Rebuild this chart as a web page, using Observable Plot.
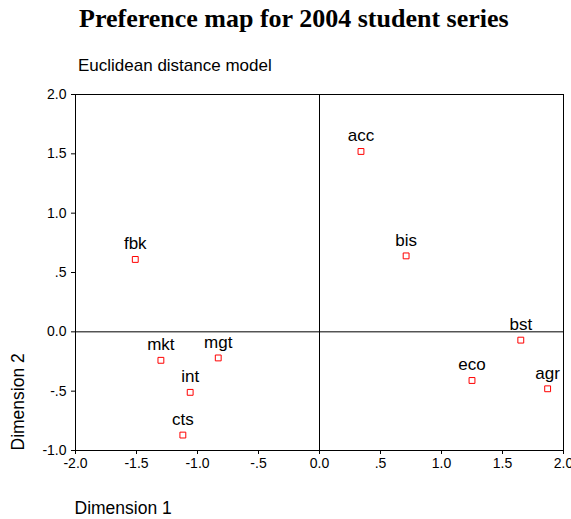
<!DOCTYPE html>
<html>
<head>
<meta charset="utf-8">
<script src="https://cdn.jsdelivr.net/npm/d3@7"></script>
<script src="https://cdn.jsdelivr.net/npm/@observablehq/plot@0.6"></script>
<style>
  body { margin: 0; background: #fff; }
  #wrap { position: relative; width: 571px; height: 519px; font-family: "Liberation Sans", Arial, sans-serif; }
  #title { position: absolute; left: 79px; top: 6px; font: bold 26px/26px "Liberation Serif", "Times New Roman", serif; white-space: nowrap; color: #000; }
  #subtitle { position: absolute; left: 78px; top: 57px; font: 17px/17px "Liberation Sans", Arial, sans-serif; white-space: nowrap; color: #000; }
  #chart { position: absolute; left: 0; top: 86px; }
</style>
</head>
<body>
<div id="wrap">
  <div id="title">Preference map for 2004 student series</div>
  <div id="subtitle">Euclidean distance model</div>
  <div id="chart"></div>
</div>
<script>
const labels = ["acc", "bis", "fbk", "bst", "eco", "agr", "mkt", "mgt", "int", "cts"];
const dim1 = [0.34, 0.71, -1.51, 1.65, 1.25, 1.87, -1.30, -0.83, -1.06, -1.12];
const dim2 = [1.52, 0.64, 0.61, -0.07, -0.41, -0.48, -0.24, -0.22, -0.51, -0.87];

const xTicks = [-2, -1.5, -1, -0.5, 0, 0.5, 1, 1.5, 2];
const xTickLabels = ["-2.0", "-1.5", "-1.0", "-.5", "0.0", ".5", "1.0", "1.5", "2.0"];
const yTicks = [-1, -0.5, 0, 0.5, 1, 1.5, 2];
const yTickLabels = ["-1.0", "-.5", "0.0", ".5", "1.0", "1.5", "2.0"];

const xLabel = "Dimension 1";
const yLabel = "Dimension 2";

const data = labels.map((name, i) => ({name, d1: dim1[i], d2: dim2[i]}));

const chart = Plot.plot({
  width: 571,
  height: 433,
  marginTop: 8,
  marginLeft: 75,
  marginRight: 8,
  marginBottom: 69,
  style: {fontFamily: '"Liberation Sans", Arial, sans-serif', color: "#000", background: "#fff", overflow: "visible"},
  x: {domain: [-2, 2]},
  y: {domain: [-1, 2]},
  marks: [
    Plot.ruleX([0], {stroke: "#000", strokeWidth: 1}),
    Plot.ruleY([0], {stroke: "#000", strokeWidth: 1}),
    Plot.frame({stroke: "#000", strokeWidth: 1}),
    Plot.axisX({ticks: xTicks, tickFormat: d => xTickLabels[xTicks.indexOf(d)], tickSize: 4, tickPadding: 4, fontSize: 14, label: null, stroke: "#000"}),
    Plot.axisY({ticks: yTicks, tickFormat: d => yTickLabels[yTicks.indexOf(d)], tickSize: 4, tickPadding: 5, fontSize: 14, label: null, stroke: "#000"}),
    Plot.text([xLabel], {text: d => d, frameAnchor: "bottom-left", textAnchor: "start", lineAnchor: "middle", dx: -1, dy: 58, fontSize: 17.5, fill: "#000"}),
    Plot.text([yLabel], {text: d => d, frameAnchor: "bottom-left", textAnchor: "start", lineAnchor: "middle", rotate: -90, dx: -57, dy: 0, fontSize: 17.5, fill: "#000"}),
    Plot.dot(data, {x: "d1", y: "d2", symbol: "square", r: 3.3, stroke: "#f00", fill: "#fff", strokeWidth: 1}),
    Plot.text(data, {x: "d1", y: "d2", text: "name", dy: -10, lineAnchor: "bottom", fontSize: 17, fill: "#000"})
  ]
});
document.getElementById("chart").appendChild(chart);
</script>
</body>
</html>
